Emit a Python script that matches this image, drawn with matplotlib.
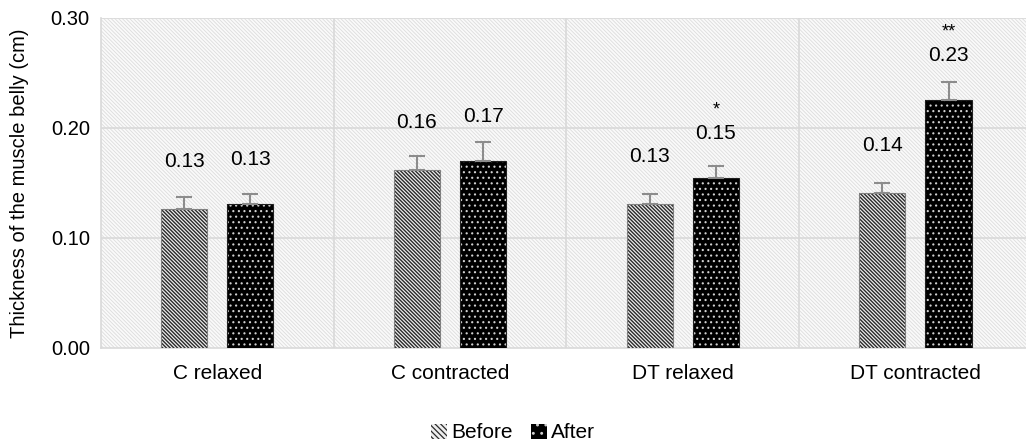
import numpy as np
import matplotlib
matplotlib.use("Agg")
import matplotlib.pyplot as plt
from matplotlib.patches import Rectangle, Patch

plt.rcParams['font.family'] = ['Liberation Sans', 'DejaVu Sans']

categories = ["C relaxed", "C contracted", "DT relaxed", "DT contracted"]
before = [0.126, 0.162, 0.131, 0.141]
after = [0.131, 0.170, 0.154, 0.225]
err_before = [0.011, 0.012, 0.009, 0.009]
err_after = [0.009, 0.017, 0.011, 0.017]
labels_before = ["0.13", "0.16", "0.13", "0.14"]
labels_after = ["0.13", "0.17", "0.15", "0.23"]
stars_after = ["", "", "*", "**"]
yticks = [0.00, 0.10, 0.20, 0.30]

BG_HATCH = '\\' * 9
BEFORE_HATCH = '\\' * 9
AFTER_HATCH = '.' * 3


def hatch_lw(p, lw):
    if hasattr(p, "set_hatch_linewidth"):
        p.set_hatch_linewidth(lw)


fig = plt.figure(figsize=(10.26, 4.45), dpi=100)
ax = fig.add_axes([0.0984, 0.2187, 0.9016, 0.741])

x = np.arange(len(categories))
w = 0.198
off = 0.142

# patterned plot area
plt.rcParams['hatch.linewidth'] = 0.6
bg = Rectangle((0, 0), 1, 1, transform=ax.transAxes, facecolor='#fafafa',
               edgecolor='#dcdcdc', hatch=BG_HATCH, lw=0, zorder=0)
hatch_lw(bg, 0.6)
ax.add_patch(bg)

plt.rcParams['hatch.linewidth'] = 1.0
b1 = ax.bar(x - off, before, w, color='#eeeeee', edgecolor='#2a2a2a',
            hatch=BEFORE_HATCH, lw=0, zorder=3)
for p in b1:
    hatch_lw(p, 1.0)
ax.bar(x - off, before, w, fill=False, edgecolor='#808080', lw=0.8, zorder=4)

plt.rcParams['hatch.linewidth'] = 0.8
b2 = ax.bar(x + off, after, w, color='black', edgecolor='#d0d0d0',
            hatch=AFTER_HATCH, lw=0, zorder=3)
for p in b2:
    hatch_lw(p, 0.8)
ax.bar(x + off, after, w, fill=False, edgecolor='#202020', lw=0.8, zorder=4)

ax.errorbar(x - off, before, yerr=[np.zeros(4), err_before], fmt='none',
            ecolor='#8c8c8c', elinewidth=1.5, capsize=6, capthick=1.5, zorder=5)
ax.errorbar(x + off, after, yerr=[np.zeros(4), err_after], fmt='none',
            ecolor='#8c8c8c', elinewidth=1.5, capsize=6, capthick=1.5, zorder=5)

for i in range(len(categories)):
    ax.annotate(labels_before[i], (x[i] - off, before[i]), xytext=(0, 34),
                textcoords='offset points', ha='center', va='center',
                fontsize=15, zorder=6)
    ax.annotate(labels_after[i], (x[i] + off, after[i]), xytext=(0, 32),
                textcoords='offset points', ha='center', va='center',
                fontsize=15, zorder=6)
    if stars_after[i]:
        ax.annotate(stars_after[i], (x[i] + off, after[i]), xytext=(0, 49),
                    textcoords='offset points', ha='center', va='center',
                    fontsize=13, zorder=6)

ax.set_xlim(-0.5, 3.475)
ax.set_ylim(0, 0.30)
ax.set_yticks(yticks)
ax.set_yticklabels([f"{t:.2f}" for t in yticks])
ax.set_xticks(x)
ax.set_xticklabels(categories)
ax.tick_params(axis='y', length=0, pad=8, labelsize=14.5)
ax.tick_params(axis='x', length=0, pad=12, labelsize=15)

for v in yticks[1:]:
    ax.axhline(v, color='#d9d9d9', lw=1.2, zorder=1)
for v in x[:-1] + 0.5:
    ax.axvline(v, color='#d9d9d9', lw=1.2, zorder=1)

for s in ['top', 'right']:
    ax.spines[s].set_visible(False)
for s in ['left', 'bottom']:
    ax.spines[s].set_color('#d9d9d9')
    ax.spines[s].set_linewidth(1.2)

ax.set_ylabel("Thickness of the muscle belly (cm)", fontsize=14.5)
ax.yaxis.set_label_coords(-0.078, 0.5)

plt.rcParams['hatch.linewidth'] = 0.9
h1 = Patch(facecolor='#eeeeee', edgecolor='#2a2a2a', hatch='\\' * 6, lw=0)
h2 = Patch(facecolor='black', edgecolor='#d0d0d0', hatch='..', lw=0)
fig.legend([h1, h2], ["Before", "After"], loc='center', bbox_to_anchor=(0.5, 0.027),
           ncol=2, frameon=False, fontsize=15, handlelength=0.75, handleheight=0.75,
           handletextpad=0.2, columnspacing=0.9)

fig.savefig("out.png", dpi=100)
